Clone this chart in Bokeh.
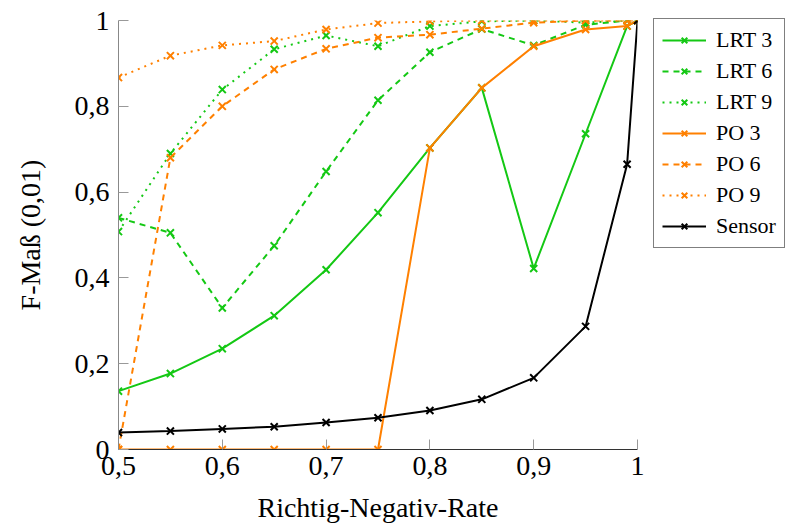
from bokeh.plotting import figure
from bokeh.models import Range1d, Legend, LegendItem, FixedTicker
from bokeh.embed import file_html
from bokeh.resources import INLINE

x = [0.5, 0.55, 0.6, 0.65, 0.7, 0.75, 0.8, 0.85, 0.9, 0.95, 0.99, 1.0]

lrt3 = [0.136, 0.177, 0.235, 0.312, 0.419, 0.552, 0.703, 0.843, 0.422, 0.736, 0.987, 1.0]
lrt6 = [0.540, 0.505, 0.330, 0.475, 0.648, 0.814, 0.926, 0.980, 0.942, 0.990, 1.0, 1.0]
lrt9 = [0.508, 0.690, 0.839, 0.933, 0.965, 0.940, 0.987, 0.998, 1.0, 0.995, 1.0, 1.0]
po3 = [0.0, 0.0, 0.0, 0.0, 0.0, 0.0, 0.703, 0.843, 0.940, 0.979, 0.987, 1.0]
po6 = [0.0, 0.680, 0.800, 0.886, 0.934, 0.960, 0.967, 0.981, 0.995, 1.0, 1.0, 1.0]
po9 = [0.867, 0.918, 0.942, 0.952, 0.979, 0.994, 0.998, 1.0, 1.0, 1.0, 1.0, 1.0]
sensor = [0.0395, 0.043, 0.048, 0.053, 0.063, 0.074, 0.091, 0.117, 0.167, 0.287, 0.665, 1.0]

x_ticks = [0.5, 0.6, 0.7, 0.8, 0.9, 1.0]
x_tick_labels = ["0,5", "0,6", "0,7", "0,8", "0,9", "1"]
y_ticks = [0.0, 0.2, 0.4, 0.6, 0.8, 1.0]
y_tick_labels = ["0", "0,2", "0,4", "0,6", "0,8", "1"]

series = [
    ("LRT 3", lrt3, "#14c814", "solid"),
    ("LRT 6", lrt6, "#14c814", "6 5"),
    ("LRT 9", lrt9, "#14c814", "2 5"),
    ("PO 3", po3, "#ff8000", "solid"),
    ("PO 6", po6, "#ff8000", "6 5"),
    ("PO 9", po9, "#ff8000", "2 5"),
    ("Sensor", sensor, "#000000", "solid"),
]

FONT = "Liberation Serif"

p = figure(width=786, height=528, output_backend="svg", toolbar_location=None,
           x_range=Range1d(0.5, 1.0), y_range=Range1d(0.0, 1.0),
           frame_width=519, frame_height=429,
           min_border_left=118, min_border_right=149, min_border_top=20,
           min_border_bottom=79)
p.outline_line_color = None
p.xgrid.visible = False
p.ygrid.visible = False
p.background_fill_color = "white"
p.border_fill_color = "white"

items = []
for name, ys, col, dash in series:
    r = p.line(x, ys, line_color=col, line_width=2, line_dash=dash)
    m = p.scatter(x, ys, marker="x", size=10, line_color=col, line_width=2)
    items.append(LegendItem(label=name, renderers=[r, m]))

for ax, ticks, labels in ((p.xaxis[0], x_ticks, x_tick_labels), (p.yaxis[0], y_ticks, y_tick_labels)):
    ax.ticker = FixedTicker(ticks=ticks)
    ax.major_label_overrides = {t: l for t, l in zip(ticks, labels)}
    ax.major_tick_in = 10
    ax.major_tick_out = 0
    ax.minor_tick_in = 0
    ax.minor_tick_out = 0
    ax.major_tick_line_color = "#999999"
    ax.major_label_text_font = FONT
    ax.major_label_text_font_size = "28px"
    ax.major_label_text_color = "black"
    ax.axis_label_text_font = FONT
    ax.axis_label_text_font_size = "28px"
    ax.axis_label_text_font_style = "normal"
    ax.axis_label_text_color = "black"

p.xaxis.axis_label = "Richtig-Negativ-Rate"
p.yaxis.axis_label = "F-Maß (0,01)"
p.xaxis.axis_line_color = "#333333"
p.yaxis.axis_line_color = "#888888"
p.xaxis.major_label_standoff = 7
p.yaxis.major_label_standoff = 9
p.xaxis.axis_label_standoff = 14
p.yaxis.axis_label_standoff = 26

legend = Legend(items=items, location=(16, 201))
legend.label_text_font = FONT
legend.label_text_font_size = "22px"
legend.label_text_color = "black"
legend.glyph_width = 44
legend.glyph_height = 20
legend.label_standoff = 10
legend.spacing = 5
legend.padding = 8
legend.margin = 0
legend.border_line_color = "black"
legend.border_line_width = 1
legend.background_fill_alpha = 1.0
p.add_layout(legend, "right")

open("out.html", "w").write(file_html(p, INLINE))
